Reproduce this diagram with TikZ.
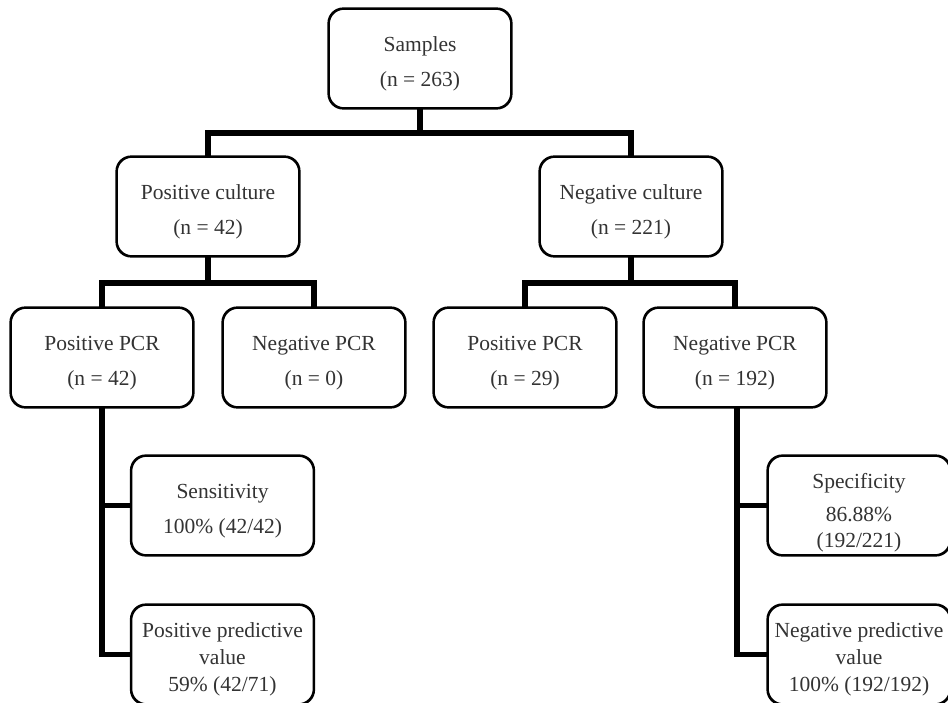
\documentclass[tikz,border=0pt]{standalone}
\usepackage{fontspec}
\setmainfont{Liberation Serif}
\definecolor{txtgray}{HTML}{333333}
\newcommand{\tpstrut}[1]{\rule{0pt}{#1}}
\begin{document}
\begin{tikzpicture}[x=1pt,y=-1pt,
  box/.style={draw=black, line width=1.6pt, rounded corners=15pt, fill=white,
    minimum width=182pt, minimum height=99pt, inner sep=0pt, align=center,
    text=txtgray, font=\fontsize{21.5}{35}\selectfont},
  conn/.style={draw=black, line width=5.5pt}]
\useasboundingbox (0,0) rectangle (948,702);
\clip (0,0) rectangle (948,702);
% connectors junctions
\coordinate (j1) at (420,133);
\coordinate (j2) at (208,283);
\coordinate (j3) at (631,283);
% nodes
\node[box] (S)   at (420,58.5)  {\tpstrut{25pt}Samples\\(n = 263)};
\node[box] (PC)  at (208,206.5) {\tpstrut{25pt}Positive culture\\(n = 42)};
\node[box] (NC)  at (631,206.5) {\tpstrut{25pt}Negative culture\\(n = 221)};
\node[box] (PP1) at (102,357.5) {\tpstrut{25pt}Positive PCR\\(n = 42)};
\node[box] (NP1) at (314,357.5) {\tpstrut{25pt}Negative PCR\\(n = 0)};
\node[box] (PP2) at (525,357.5) {\tpstrut{25pt}Positive PCR\\(n = 29)};
\node[box] (NP2) at (735,357.5) {\tpstrut{25pt}Negative PCR\\(n = 192)};
\node[box] (SE)  at (222.5,505.5) {\tpstrut{25pt}Sensitivity\\100\% (42/42)};
\node[box, font=\fontsize{21.5}{27}\selectfont] (PPV) at (222.5,654.5) {\tpstrut{25pt}Positive predictive\\value\\59\% (42/71)};
\node[box, font=\fontsize{21.5}{26}\selectfont] (SP)  at (859,505.5) {\tpstrut{29pt}Specificity\\[7pt]86.88\%\\(192/221)};
\node[box, font=\fontsize{21.5}{27}\selectfont] (NPV) at (859,654.5) {\tpstrut{25pt}Negative predictive\\value\\100\% (192/192)};
% connectors
\draw[conn] (S.south) -- (j1);
\draw[conn] (PC.north) |- (j1) -| (NC.north);
\draw[conn] (PC.south) -- (j2);
\draw[conn] (PP1.north) |- (j2) -| (NP1.north);
\draw[conn] (NC.south) -- (j3);
\draw[conn] (PP2.north) |- (j3) -| (NP2.north);
\draw[conn] (PP1.south) |- (SE.west);
\draw[conn] (PP1.south) |- (PPV.west);
\draw[conn] ([xshift=2pt]NP2.south) |- (SP.west);
\draw[conn] ([xshift=2pt]NP2.south) |- (NPV.west);
% box outlines on top of connector ends
\foreach \n in {S,PC,NC,PP1,NP1,PP2,NP2,SE,PPV,SP,NPV}{
  \draw[line width=1.6pt, rounded corners=15pt] (\n.south west) rectangle (\n.north east);
}
\end{tikzpicture}
\end{document}
